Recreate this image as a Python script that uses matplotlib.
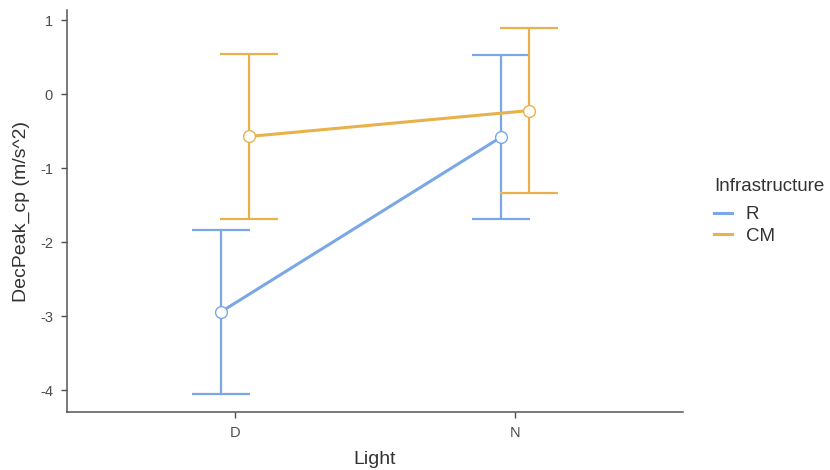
import matplotlib.pyplot as plt
from matplotlib.lines import Line2D
import numpy as np

plt.rcParams['font.family'] = ['Liberation Sans', 'DejaVu Sans']
plt.rcParams['axes.unicode_minus'] = False

# data
light = ["D", "N"]
groups = ["R", "CM"]
means = {"R": [-2.94, -0.58], "CM": [-0.57, -0.22]}
upper = {"R": [-1.83, 0.53], "CM": [0.54, 0.89]}
lower = {"R": [-4.05, -1.69], "CM": [-1.685, -1.33]}
colors = {"R": "#7BA7E6", "CM": "#E9B14B"}
offsets = {"R": -0.05, "CM": 0.05}

fig = plt.figure(figsize=(8.3, 4.7), dpi=100)
ax = fig.add_axes([0.0807, 0.1234, 0.742, 0.8553])

x = np.arange(1, len(light) + 1)
for g in groups:
    xs = x + offsets[g]
    m = np.array(means[g])
    err = [m - np.array(lower[g]), np.array(upper[g]) - m]
    ax.errorbar(xs, m, yerr=err, fmt="none", ecolor=colors[g], elinewidth=1.6,
                capsize=21, capthick=1.6, zorder=2)
    ax.plot(xs, m, color=colors[g], lw=2.2, zorder=3)
    ax.plot(xs, m, "o", ms=8.5, mfc="white", mec=colors[g], mew=1.0, zorder=4)

ax.set_xlim(0.4, 2.6)
ax.set_ylim(-4.293, 1.139)
ax.set_xticks(x)
ax.set_xticklabels(light)
ax.set_yticks([1, 0, -1, -2, -3, -4])
ax.tick_params(axis="both", labelsize=10.5, colors="#4d4d4d", length=4, width=1, pad=6)
for s in ["top", "right"]:
    ax.spines[s].set_visible(False)
for s in ["left", "bottom"]:
    ax.spines[s].set_color("#555555")
    ax.spines[s].set_linewidth(1.1)

ax.set_xlabel("Light", fontsize=14, color="#333333", labelpad=8)
ax.set_ylabel("DecPeak_cp (m/s^2)", fontsize=14, color="#333333", labelpad=7)

handles = [Line2D([0], [0], color=colors[g], lw=2.2) for g in groups]
leg = fig.legend(handles, groups, title="Infrastructure", loc="center left",
                 bbox_to_anchor=(0.840, 0.550), frameon=False, fontsize=13.5,
                 title_fontsize=13.5, handlelength=0.95, handletextpad=0.75,
                 labelspacing=0.25, alignment="left")
leg._legend_box.sep = 8
for t in leg.get_texts():
    t.set_color("#333333")
leg.get_title().set_color("#333333")

fig.savefig("out.png", dpi=100)
